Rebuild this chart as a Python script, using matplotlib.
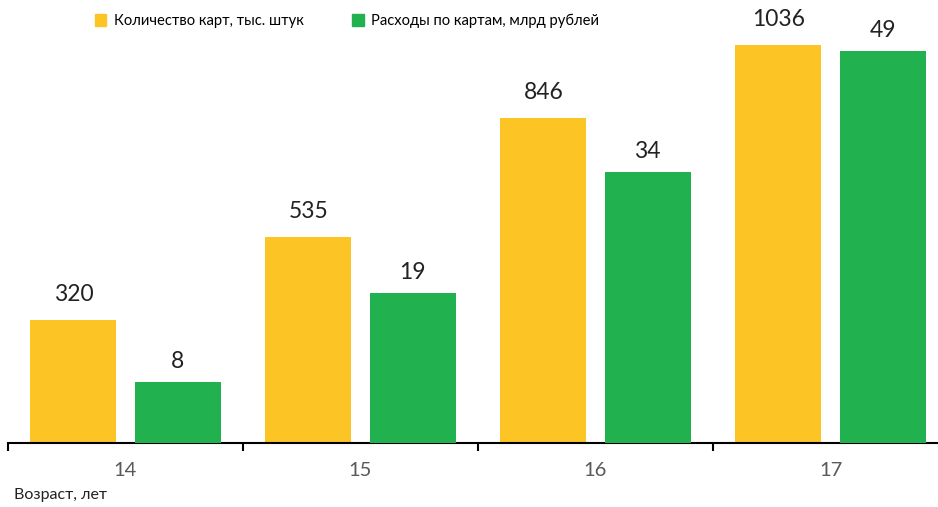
# количество карт и расходы по картам по возрасту

import numpy as np
import matplotlib.pyplot as plt
from matplotlib.patches import Patch

plt.rcParams['font.family'] = ['Lato', 'DejaVu Sans']

ages = ['14', '15', '16', '17']
cards = [320, 535, 846, 1036]        # тыс. штук
spend = [8, 19, 34, 49]              # млрд рублей
lab_cards = 'Количество карт, тыс. штук'
lab_spend = 'Расходы по картам, млрд рублей'

yellow = '#FCC424'
green = '#21B24F'

fig = plt.figure(figsize=(9.38, 5.07), dpi=100)
W, H = 938, 507
ax = fig.add_axes([8/W, (H-443)/H, 940/W, 443/H])
ax2 = ax.twinx()

x = np.arange(len(ages))
w = 0.366
ax.bar(x - 0.222, cards, w, color=yellow, zorder=2)
ax2.bar(x + 0.222, spend, w, color=green, zorder=2)

ax.set_xlim(-0.5, 3.5)
ax.set_ylim(0, 1153)
ax2.set_ylim(0.45, 55.3)

for xi, v in zip(x, cards):
    ax.annotate(str(v), (xi - 0.222, v), xytext=(0, 11), textcoords='offset points',
                ha='center', va='bottom', fontsize=16.5, color='#222222')
for xi, v in zip(x, spend):
    ax2.annotate(str(v), (xi + 0.222, v), xytext=(0, 7), textcoords='offset points',
                 ha='center', va='bottom', fontsize=16.5, color='#222222')

for a in (ax, ax2):
    for s in ('top', 'right', 'left'):
        a.spines[s].set_visible(False)
    a.set_yticks([])
ax2.spines['bottom'].set_visible(False)
ax.spines['bottom'].set_linewidth(1.5)

ax.set_xticks(np.arange(-0.5, 4, 1))
ax.set_xticklabels([])
ax.tick_params(axis='x', which='major', length=6, width=1.5, direction='out')
ax.set_xticks(x, minor=True)
ax.set_xticklabels(ages, minor=True, fontsize=14.5, color='#595959')
ax.tick_params(axis='x', which='minor', length=0, pad=14)

fig.text(14/W, 1 - 495/H, 'Возраст, лет', fontsize=11.5, color='#222222', va='center')

handles = [Patch(color=yellow, label=lab_cards), Patch(color=green, label=lab_spend)]
fig.legend(handles=handles, loc='center', bbox_to_anchor=(347/W, 1 - 21/H), ncol=2,
           frameon=False, fontsize=10.6, handlelength=0.8, handleheight=0.8,
           handletextpad=0.5, columnspacing=3.3)

fig.savefig('out.png', dpi=100)
